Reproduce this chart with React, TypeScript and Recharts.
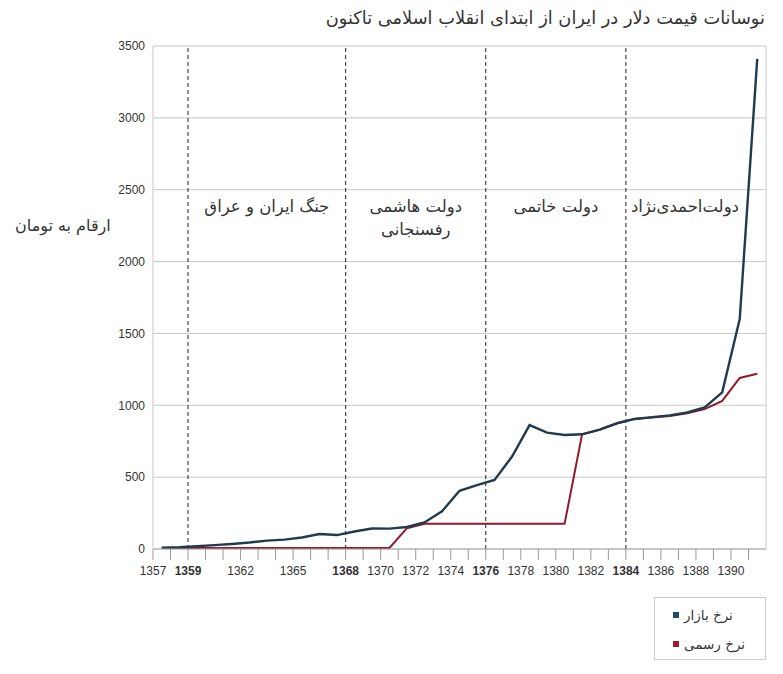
import { LineChart, Line, XAxis, YAxis, CartesianGrid, ReferenceLine, ReferenceArea } from "recharts";

// years (Iranian calendar); each value sits in the middle of its year
const YEARS = [
  1357, 1358, 1359, 1360, 1361, 1362, 1363, 1364, 1365, 1366, 1367, 1368,
  1369, 1370, 1371, 1372, 1373, 1374, 1375, 1376, 1377, 1378, 1379, 1380,
  1381, 1382, 1383, 1384, 1385, 1386, 1387, 1388, 1389, 1390, 1391,
];
const MARKET = [
  9, 12, 19, 27, 35, 45, 58, 65, 80, 104, 97, 122,
  143, 142, 153, 185, 262, 405, 445, 480, 643, 862, 810, 793,
  798, 830, 875, 905, 918, 930, 950, 985, 1090, 1600, 3410,
];
const OFFICIAL = [
  7, 7, 7, 7, 7, 7, 7, 7, 7, 7, 7, 7,
  7, 7, 145, 175, 175, 175, 175, 175, 175, 175, 175, 175,
  798, 830, 875, 905, 915, 925, 945, 973, 1030, 1190, 1220,
];
const Y_TICKS = [0, 500, 1000, 1500, 2000, 2500, 3000, 3500];
const X_LABELS = [1357, 1359, 1362, 1365, 1368, 1370, 1372, 1374, 1376, 1378, 1380, 1382, 1384, 1386, 1388, 1390];
const ERA_YEARS = [1359, 1368, 1376, 1384, 1392];
const ERA_NAMES = [
  ["جنگ ایران و عراق"],
  ["دولت هاشمی", "رفسنجانی"],
  ["دولت خاتمی"],
  ["دولت‌احمدی‌نژاد"],
];
// the last label sits a little left of its period's centre
const ERA_NUDGE = [0, 0, 0, -11];

const TITLE = "نوسانات قیمت دلار در ایران از ابتدای انقلاب اسلامی تاکنون";
const Y_LABEL = "ارقام به تومان";
const SERIES = [
  { key: "market", name: "نرخ بازار", color: "#1e3b4f", swatch: "#1b4a6e" },
  { key: "official", name: "نرخ رسمی", color: "#8f1b2b", swatch: "#a01c26" },
];

const data = YEARS.map((y, i) => ({ x: y + 0.5, market: MARKET[i], official: OFFICIAL[i] }));

const FA = "'DejaVu Sans', sans-serif";
const NUM = "'Liberation Sans', Arial, sans-serif";
const GRID = "#c8c8c8";

function YearTick({ x, y, payload }: any) {
  const v = payload.value;
  if (!X_LABELS.includes(v)) return null;
  const bold = ERA_YEARS.includes(v);
  return (
    <text x={x} y={y} dy={13} textAnchor="middle" fontSize={12} fontFamily={NUM} fontWeight={bold ? 700 : 400} fill="#333">
      {v}
    </text>
  );
}

function EraLabel({ viewBox, lines, nudge }: any) {
  if (!viewBox) return null;
  const cx = viewBox.x + viewBox.width / 2 + (nudge || 0);
  const cy = viewBox.y + viewBox.height / 2;
  return (
    <text x={cx} y={cy} textAnchor="middle" fontSize={16.5} fontFamily={FA} fill="#333" direction="rtl">
      {lines.map((l: string, i: number) => (
        <tspan key={i} x={cx} dy={i === 0 ? 3 : 23}>
          {l}
        </tspan>
      ))}
    </text>
  );
}

export default function App() {
  return (
    <div style={{ position: "absolute", left: 0, top: 0, width: 783, height: 674, background: "#fff" }}>
      <div
        style={{
          position: "absolute", right: 18, top: 7, fontFamily: FA, fontSize: 17.8, color: "#333",
          direction: "rtl", whiteSpace: "nowrap",
        }}
      >
        {TITLE}
      </div>
      <div
        style={{
          position: "absolute", left: 15, top: 216, fontFamily: FA, fontSize: 16, color: "#333",
          direction: "rtl", whiteSpace: "nowrap",
        }}
      >
        {Y_LABEL}
      </div>
      <LineChart width={783} height={674} data={data} margin={{ top: 46, right: 17, left: 93, bottom: 95 }}>
        <CartesianGrid vertical={false} stroke={GRID} />
        <XAxis
          type="number"
          dataKey="x"
          domain={[1357, 1392]}
          ticks={YEARS}
          interval={0}
          height={30}
          tickSize={11}
          tick={<YearTick />}
          tickLine={{ stroke: "#999" }}
          axisLine={{ stroke: "#aaa" }}
        />
        <YAxis
          type="number"
          domain={[0, 3500]}
          ticks={Y_TICKS}
          width={60}
          tickLine={false}
          axisLine={{ stroke: GRID }}
          tick={{ fontSize: 12, fontFamily: NUM, fill: "#333" }}
        />
        <ReferenceLine x={1392} stroke={GRID} />
        {ERA_YEARS.slice(0, 4).map((yr) => (
          <ReferenceLine key={yr} x={yr} stroke="#222" strokeDasharray="4 3" />
        ))}
        {ERA_NAMES.map((lines, i) => (
          <ReferenceArea
            key={i}
            x1={ERA_YEARS[i]}
            x2={ERA_YEARS[i + 1]}
            y1={2200}
            y2={2530}
            fill="none"
            stroke="none"
            label={(p: any) => <EraLabel {...p} lines={lines} nudge={ERA_NUDGE[i]} />}
          />
        ))}
        <Line type="linear" dataKey="official" stroke={SERIES[1].color} strokeWidth={2} dot={false} isAnimationActive={false} />
        <Line type="linear" dataKey="market" stroke={SERIES[0].color} strokeWidth={2.4} dot={false} isAnimationActive={false} />
      </LineChart>
      <div
        style={{
          position: "absolute", left: 654, top: 597, width: 112, height: 63, border: "1px solid #ccc",
          boxSizing: "border-box", fontFamily: FA, fontSize: 13.5, color: "#333",
        }}
      >
        {SERIES.map((s, i) => (
          <div
            key={s.key}
            style={{
              position: "absolute", left: 18, top: 17 + i * 29, height: 0, display: "flex",
              alignItems: "center", gap: 5, direction: "ltr",
            }}
          >
            <span style={{ width: 6, height: 6, background: s.swatch, display: "inline-block" }} />
            <span style={{ direction: "rtl", lineHeight: "14px" }}>{s.name}</span>
          </div>
        ))}
      </div>
    </div>
  );
}
